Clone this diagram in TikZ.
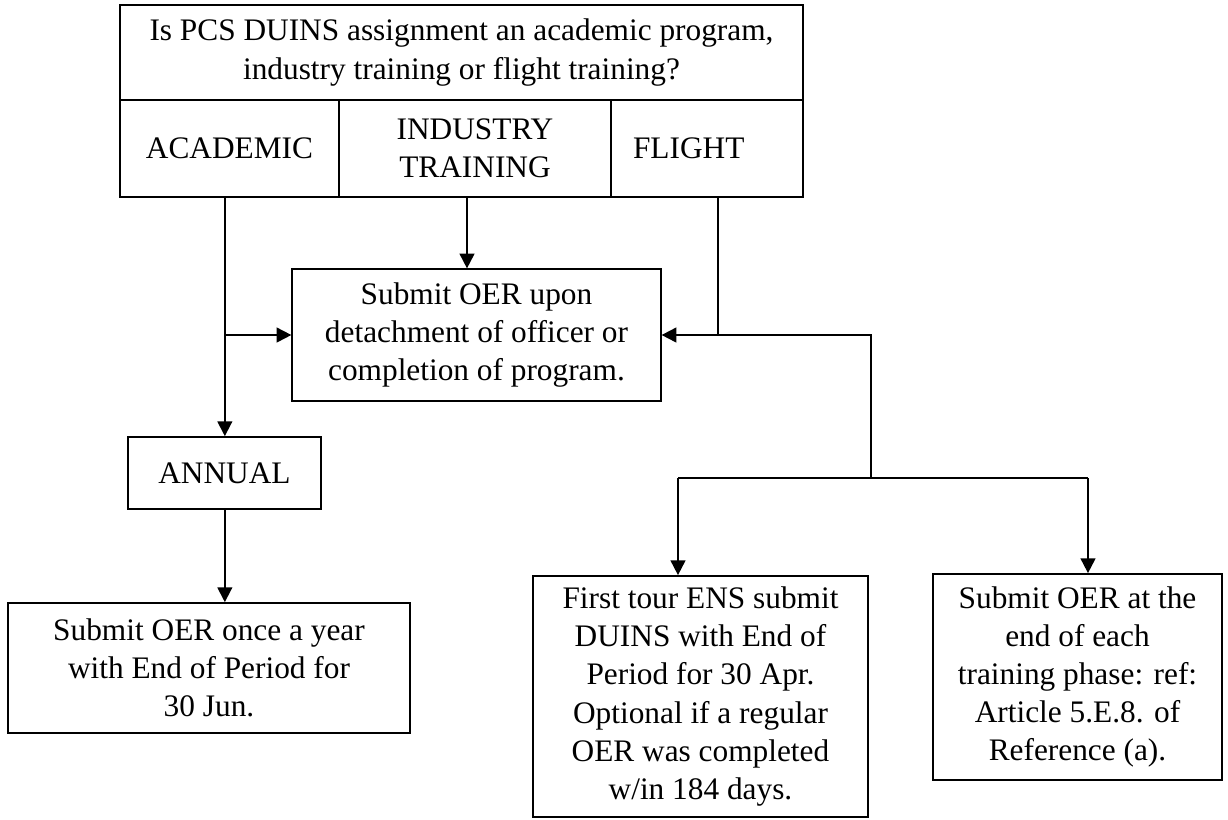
\documentclass[tikz,border=0pt]{standalone}
\usepackage{fontspec}
\setmainfont{Liberation Serif}
\usetikzlibrary{arrows.meta,calc}
\begin{document}
\begin{tikzpicture}[x=0.75pt,y=-0.75pt,
  box/.style={draw, line width=1.3pt, inner sep=0pt, align=center,
    font=\fontsize{23.5}{28.6}\selectfont},
  thinbox/.style={box, line width=0.9pt},
  conn/.style={line width=1.4pt},
  arr/.style={conn, -{Triangle[length=11pt,width=11pt]}}]
\useasboundingbox (0,0) rectangle (1228,819);
% top table
\node[box, minimum width=512.25pt, minimum height=71.25pt] (q) at (461.5,52.5)
  {Is PCS DUINS assignment an academic program,\\industry training or flight training?};
\node[box, minimum width=164.25pt, minimum height=72.75pt] (acad) at (229.5,148.5) {ACADEMIC};
\node[box, minimum width=204pt, minimum height=72.75pt] (ind) at (475,148.5) {INDUSTRY\\TRAINING};
\node[box, minimum width=144pt, minimum height=72.75pt, inner xsep=16.5pt,
  text width=111pt, align=left] (fl) at (707,148.5) {FLIGHT};
% middle
\node[thinbox, minimum width=276.75pt, minimum height=99pt] (mid) at (476.5,335)
  {Submit OER upon\\detachment of officer or\\completion of program.};
\node[box, minimum width=144.75pt, minimum height=54pt] (annual) at (224.5,473) {ANNUAL};
\node[box, minimum width=301.5pt, minimum height=97.5pt] (year) at (209,668)
  {Submit OER once a year\\with End of Period for\\30 Jun.};
\node[box, minimum width=251.25pt, minimum height=180.75pt] (first) at (700.5,696.5)
  {First tour ENS submit\\DUINS with End of\\Period for 30 Apr.\\Optional if a regular\\OER was completed\\w/in 184 days.};
\node[box, minimum width=216.75pt, minimum height=154.5pt] (phase) at (1077.5,677)
  {Submit OER at the\\end of each\\training phase: ref:\\Article 5.E.8. of\\Reference (a).};
% connectors
\coordinate (ac) at ([xshift=-3.5pt]acad.south);
\draw[arr] (ac) -- (ac |- annual.north);
\draw[arr] (ac |- mid.west) -- (mid.west);
\draw[arr] ([xshift=-6pt]ind.south) -- ([xshift=-6pt]ind.south |- mid.north);
\coordinate (fs) at ([xshift=8.25pt]fl.south);
\coordinate (j1) at (fs |- mid.east);
\draw[arr] (fs) -- (j1) -- (mid.east);
\coordinate (j2) at (871,335);
\coordinate (j3) at (871,478);
\coordinate (lt) at (678,478);
\coordinate (rt) at (1088,478);
\draw[conn] (j1) -- (j2) -- (j3);
\draw[conn] (lt) -- (rt);
\draw[arr] (lt) -- (lt |- first.north);
\draw[arr] (rt) -- (rt |- phase.north);
\draw[arr] (ac |- annual.south) -- (ac |- year.north);
\end{tikzpicture}
\end{document}
